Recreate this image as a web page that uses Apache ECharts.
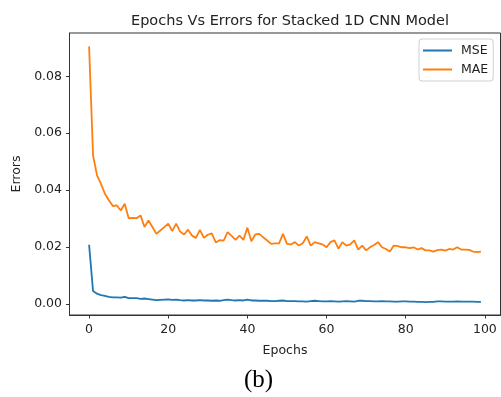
<!DOCTYPE html>
<html>
<head>
<meta charset="utf-8">
<script src="https://cdn.jsdelivr.net/npm/echarts@6.0.0/dist/echarts.min.js"></script>
<style>
html,body{margin:0;padding:0;background:#fff;}
#chart{width:501px;height:397px;}
</style>
</head>
<body>
<div id="chart"></div>
<script>
var epochs = [];
for (var i = 0; i < 100; i++) epochs.push(i);

var mseValues = [
0.0208,0.0045,0.0036,0.0031,0.0028,0.0025,0.0023,0.0023,0.0022,0.0025,
0.0020,0.0020,0.0020,0.0018,0.0019,0.0017,0.0015,0.0013,0.0014,0.0015,
0.0016,0.0014,0.0015,0.0013,0.0012,0.0013,0.0012,0.0012,0.0013,0.0012,
0.0012,0.0011,0.0012,0.0011,0.0013,0.0015,0.0013,0.0012,0.0013,0.0012,
0.0015,0.0012,0.0012,0.0011,0.0011,0.0011,0.0010,0.0010,0.0011,0.0012,
0.0010,0.0010,0.0010,0.0009,0.0009,0.0008,0.0010,0.0011,0.0010,0.0009,
0.0009,0.0010,0.0009,0.0008,0.0009,0.0010,0.0009,0.0008,0.0011,0.0011,
0.0010,0.0010,0.0009,0.0009,0.0010,0.0009,0.0009,0.0008,0.0008,0.0009,
0.0009,0.0008,0.0008,0.0007,0.0007,0.0006,0.0007,0.0007,0.0009,0.0009,
0.0008,0.0008,0.0008,0.0009,0.0008,0.0008,0.0008,0.0008,0.0007,0.0007
];

var maeValues = [
0.0905,0.0522,0.0452,0.0422,0.0387,0.0364,0.0344,0.0346,0.0328,0.0352,
0.0301,0.0302,0.0301,0.0311,0.0270,0.0293,0.0270,0.0246,0.0258,0.0270,
0.0282,0.0256,0.0282,0.0254,0.0244,0.0261,0.0240,0.0232,0.0260,0.0232,
0.0243,0.0248,0.0216,0.0224,0.0222,0.0252,0.0239,0.0225,0.0240,0.0225,
0.0268,0.0220,0.0244,0.0246,0.0234,0.0223,0.0211,0.0213,0.0213,0.0246,
0.0211,0.0209,0.0217,0.0205,0.0213,0.0237,0.0205,0.0217,0.0213,0.0209,
0.0199,0.0217,0.0223,0.0194,0.0217,0.0205,0.0209,0.0223,0.0191,0.0205,
0.0188,0.0199,0.0207,0.0217,0.0199,0.0193,0.0184,0.0205,0.0203,0.0199,
0.0199,0.0196,0.0199,0.0191,0.0196,0.0188,0.0188,0.0184,0.0189,0.0191,
0.0187,0.0193,0.0191,0.0199,0.0191,0.0191,0.0190,0.0184,0.0182,0.0184
];

var xTicks = [0, 20, 40, 60, 80, 100];
var yTicks = [0, 0.02, 0.04, 0.06, 0.08];

function pairs(vals) {
  return epochs.map(function (e, i) { return [e, vals[i]]; });
}

var textColor = '#222';
var font = 'DejaVu Sans';

var chart = echarts.init(document.getElementById('chart'), null, {renderer: 'canvas'});
chart.setOption({
  animation: false,
  backgroundColor: '#fff',
  title: {
    text: 'Epochs Vs Errors for Stacked 1D CNN Model',
    left: 285,
    top: 9,
    textAlign: 'center',
    textStyle: {fontFamily: font, fontSize: 14.5, fontWeight: 'normal', color: textColor}
  },
  legend: {
    orient: 'vertical',
    left: 419,
    top: 39,
    padding: [5, 5, 5, 4],
    itemGap: 6,
    itemWidth: 29,
    itemHeight: 2,
    icon: 'rect',
    borderColor: '#d0d0d0',
    borderWidth: 1,
    borderRadius: 3,
    backgroundColor: '#fff',
    textStyle: {fontFamily: font, fontSize: 12.5, color: textColor, padding: [0, 0, 0, 4]},
    data: ['MSE', 'MAE']
  },
  grid: {
    left: 69.5,
    top: 33,
    width: 431,
    height: 282,
    show: true,
    borderColor: '#333',
    borderWidth: 1,
    backgroundColor: 'transparent'
  },
  xAxis: {
    type: 'value',
    min: -4.95,
    max: 103.95,
    name: 'Epochs',
    nameLocation: 'middle',
    nameGap: 29,
    nameTextStyle: {fontFamily: font, fontSize: 12.5, color: textColor},
    axisLine: {show: true, onZero: false, lineStyle: {color: '#333', width: 1}},
    axisTick: {show: true, inside: false, length: 3.5, customValues: xTicks, lineStyle: {color: '#333'}},
    axisLabel: {
      customValues: xTicks, margin: 8,
      fontFamily: font, fontSize: 12.5, color: textColor,
      formatter: function (v) { return String(Math.round(v)); }
    },
    splitLine: {show: false}
  },
  yAxis: {
    type: 'value',
    min: -0.0039,
    max: 0.0952,
    name: 'Errors',
    nameLocation: 'middle',
    nameGap: 46,
    nameTextStyle: {fontFamily: font, fontSize: 12.5, color: textColor},
    axisLine: {show: true, onZero: false, lineStyle: {color: '#333', width: 1}},
    axisTick: {show: true, inside: false, length: 3.5, customValues: yTicks, lineStyle: {color: '#333'}},
    axisLabel: {
      customValues: yTicks, margin: 7.5,
      fontFamily: font, fontSize: 12.5, color: textColor,
      formatter: function (v) { return v.toFixed(2); }
    },
    splitLine: {show: false}
  },
  graphic: [{
    type: 'text',
    left: 244,
    top: 368,
    style: {
      text: '(b)',
      font: '25px "Liberation Serif"',
      fill: '#000'
    }
  }],
  series: [
    {
      name: 'MSE', type: 'line', data: pairs(mseValues),
      symbol: 'none', lineStyle: {color: '#1f77b4', width: 1.8}, itemStyle: {color: '#1f77b4'}
    },
    {
      name: 'MAE', type: 'line', data: pairs(maeValues),
      symbol: 'none', lineStyle: {color: '#ff7f0e', width: 1.8}, itemStyle: {color: '#ff7f0e'}
    }
  ]
});
</script>
</body>
</html>
